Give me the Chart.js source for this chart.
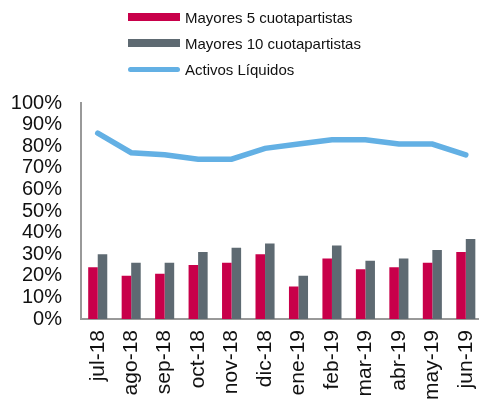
<!DOCTYPE html>
<html>
<head>
<meta charset="utf-8">
<script src="https://cdn.jsdelivr.net/npm/chart.js@4"></script>
<style>
  html, body { margin: 0; padding: 0; background: #fff; overflow: hidden; }
  #wrap { position: relative; width: 502px; height: 401px; }
  #legend { position: absolute; left: 128px; top: 4px; font-family: 'Liberation Sans', Arial, sans-serif; font-size: 15px; color: #111; }
  .item { display: flex; align-items: center; height: 26px; }
  .swatch { width: 52px; height: 8px; margin-right: 5px; }
  .swatch.line { height: 5px; border-radius: 3px; }
</style>
</head>
<body>
<div id="wrap">
  <canvas id="chart" width="502" height="401"></canvas>
  <div id="legend"></div>
</div>
<script>
// Data
const months = ['jul-18', 'ago-18', 'sep-18', 'oct-18', 'nov-18', 'dic-18', 'ene-19', 'feb-19', 'mar-19', 'abr-19', 'may-19', 'jun-19'];
const top5 = [0.24, 0.20, 0.21, 0.25, 0.26, 0.30, 0.15, 0.28, 0.23, 0.24, 0.26, 0.31];
const top10 = [0.30, 0.26, 0.26, 0.31, 0.33, 0.35, 0.20, 0.34, 0.27, 0.28, 0.32, 0.37];
const liquidos = [0.86, 0.77, 0.76, 0.74, 0.74, 0.79, 0.81, 0.83, 0.83, 0.81, 0.81, 0.76];

const red = '#c8004a';
const gray = '#5e6a72';
const blue = '#63b0e4';
const font = "'Liberation Sans', Arial, sans-serif";

const chart = new Chart(document.getElementById('chart'), {
    data: {
        labels: months,
        datasets: [
            {
                type: 'line',
                label: 'Activos Líquidos',
                data: liquidos,
                borderColor: blue,
                borderWidth: 5.5,
                pointRadius: 0,
                tension: 0,
                borderCapStyle: 'round',
                order: 0
            },
            {
                type: 'bar',
                label: 'Mayores 5 cuotapartistas',
                data: top5,
                backgroundColor: red,
                categoryPercentage: 0.57,
                barPercentage: 1,
                order: 1
            },
            {
                type: 'bar',
                label: 'Mayores 10 cuotapartistas',
                data: top10,
                backgroundColor: gray,
                categoryPercentage: 0.57,
                barPercentage: 1,
                order: 1
            }
        ]
    },
    options: {
        responsive: false,
        animation: false,
        layout: { padding: { top: 103, right: 0, left: 0, bottom: 0 } },
        plugins: {
            legend: { display: false },
            tooltip: { enabled: false }
        },
        scales: {
            x: {
                grid: { display: false, drawTicks: false },
                border: { color: '#999', width: 2 },
                ticks: {
                    autoSkip: false,
                    minRotation: 90,
                    maxRotation: 90,
                    padding: 11,
                    color: '#111',
                    font: { family: font, size: 21 }
                },
                afterFit: (s) => { s.height = 82; }
            },
            y: {
                min: 0,
                max: 1,
                grid: { display: false, drawTicks: false },
                border: { color: '#999', width: 2 },
                ticks: {
                    autoSkip: false,
                    stepSize: 0.1,
                    padding: 19,
                    color: '#111',
                    font: { family: font, size: 20 },
                    callback: (v) => Math.round(v * 100) + '%'
                },
                afterFit: (s) => { s.width = 81; }
            }
        }
    }
});

// Legend (vertical, like the original)
const legendEl = document.getElementById('legend');
[1, 2, 0].forEach((i) => {
    const ds = chart.data.datasets[i];
    const row = document.createElement('div');
    row.className = 'item';
    const sw = document.createElement('span');
    sw.className = 'swatch' + (ds.type === 'line' ? ' line' : '');
    sw.style.background = ds.type === 'line' ? ds.borderColor : ds.backgroundColor;
    const txt = document.createElement('span');
    txt.textContent = ds.label;
    row.appendChild(sw);
    row.appendChild(txt);
    legendEl.appendChild(row);
});
</script>
</body>
</html>
